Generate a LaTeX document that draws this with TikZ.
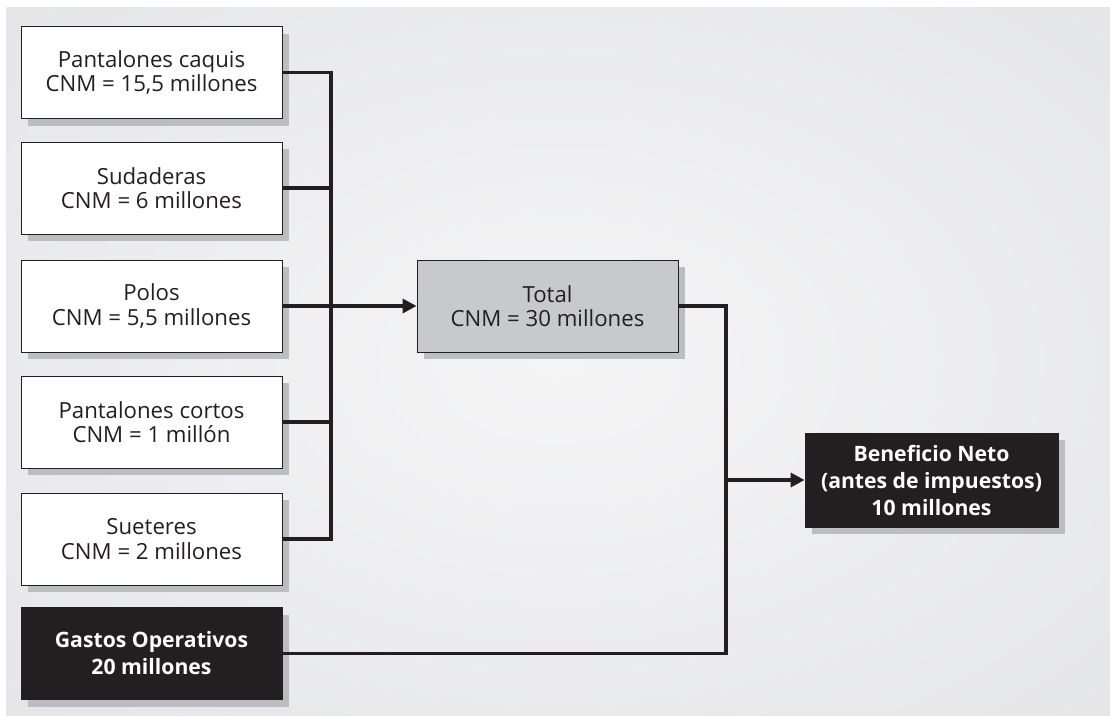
\documentclass[tikz,border=0pt]{standalone}
\usepackage{fontspec}
\setmainfont{Open Sans}
\usetikzlibrary{arrows.meta,shadows}
\definecolor{ink}{HTML}{231F20}
\definecolor{shadowgray}{HTML}{BCBDC0}
\definecolor{totalgray}{HTML}{C8C9CB}
\definecolor{bgin}{HTML}{F5F5F6}
\definecolor{bgout}{HTML}{DBDCDF}
\pgfdeclareradialshading{bgshade}{\pgfpointorigin}{color(0bp)=(bgin); color(58bp)=(bgout); color(70bp)=(bgout)}
\tikzset{
  box/.style={draw=ink, line width=0.8pt, minimum width=261pt, minimum height=92pt,
    inner sep=0pt, align=center, text=ink, font=\fontsize{22.2}{24.5}\selectfont,
    drop shadow={shadow xshift=7pt, shadow yshift=-7pt, fill=shadowgray, opacity=1}},
  whitebox/.style={box, fill=white},
  graybox/.style={box, fill=totalgray},
  darkbox/.style={box, fill=ink, text=white, font=\fontsize{21.2}{27}\selectfont\bfseries},
  conn/.style={draw=ink, line width=3.3pt, line join=miter},
  arr/.style={conn, -{Triangle[length=14pt,width=14pt]}}
}
\begin{document}
\begin{tikzpicture}[x=1pt,y=-1pt]
\useasboundingbox (0,0) rectangle (1110,716);
\fill[white] (0,0) rectangle (1110,716);
\shade[shading=bgshade] (6,7) rectangle (1110,715);

\node[whitebox] (b1) at (151.5,72.5) {Pantalones caquis\\CNM = 15,5 millones};
\node[whitebox] (b2) at (151.5,188) {Sudaderas\\CNM = 6 millones};
\node[whitebox] (b3) at (151.5,306) {Polos\\CNM = 5,5 millones};
\node[whitebox] (b4) at (151.5,422) {Pantalones cortos\\CNM = 1 millón};
\node[whitebox] (b5) at (151.5,539) {Sueteres\\CNM = 2 millones};
\node[darkbox] (g) at (151.5,653.5) {Gastos Operativos\\20 millones};
\node[graybox] (t) at (547.5,306) {Total\\CNM = 30 millones};
\node[darkbox, minimum width=253pt, minimum height=94pt] (n) at (931.5,480) {Beneficio Neto\\(antes de impuestos)\\10 millones};

\coordinate (bx) at (331,0);
\coordinate (jx) at (726,0);

\draw[conn] (b1.east) -| (bx |- b5.east) -- (b5.east);
\draw[conn] (b2.east) -- (b2.east -| bx);
\draw[conn] (b4.east) -- (b4.east -| bx);
\draw[arr] (b3.east) -- (t.west);
\draw[conn] (t.east) -| (jx |- g.east) -- (g.east);
\draw[arr] (jx |- n.west) -- (n.west);
\end{tikzpicture}
\end{document}
